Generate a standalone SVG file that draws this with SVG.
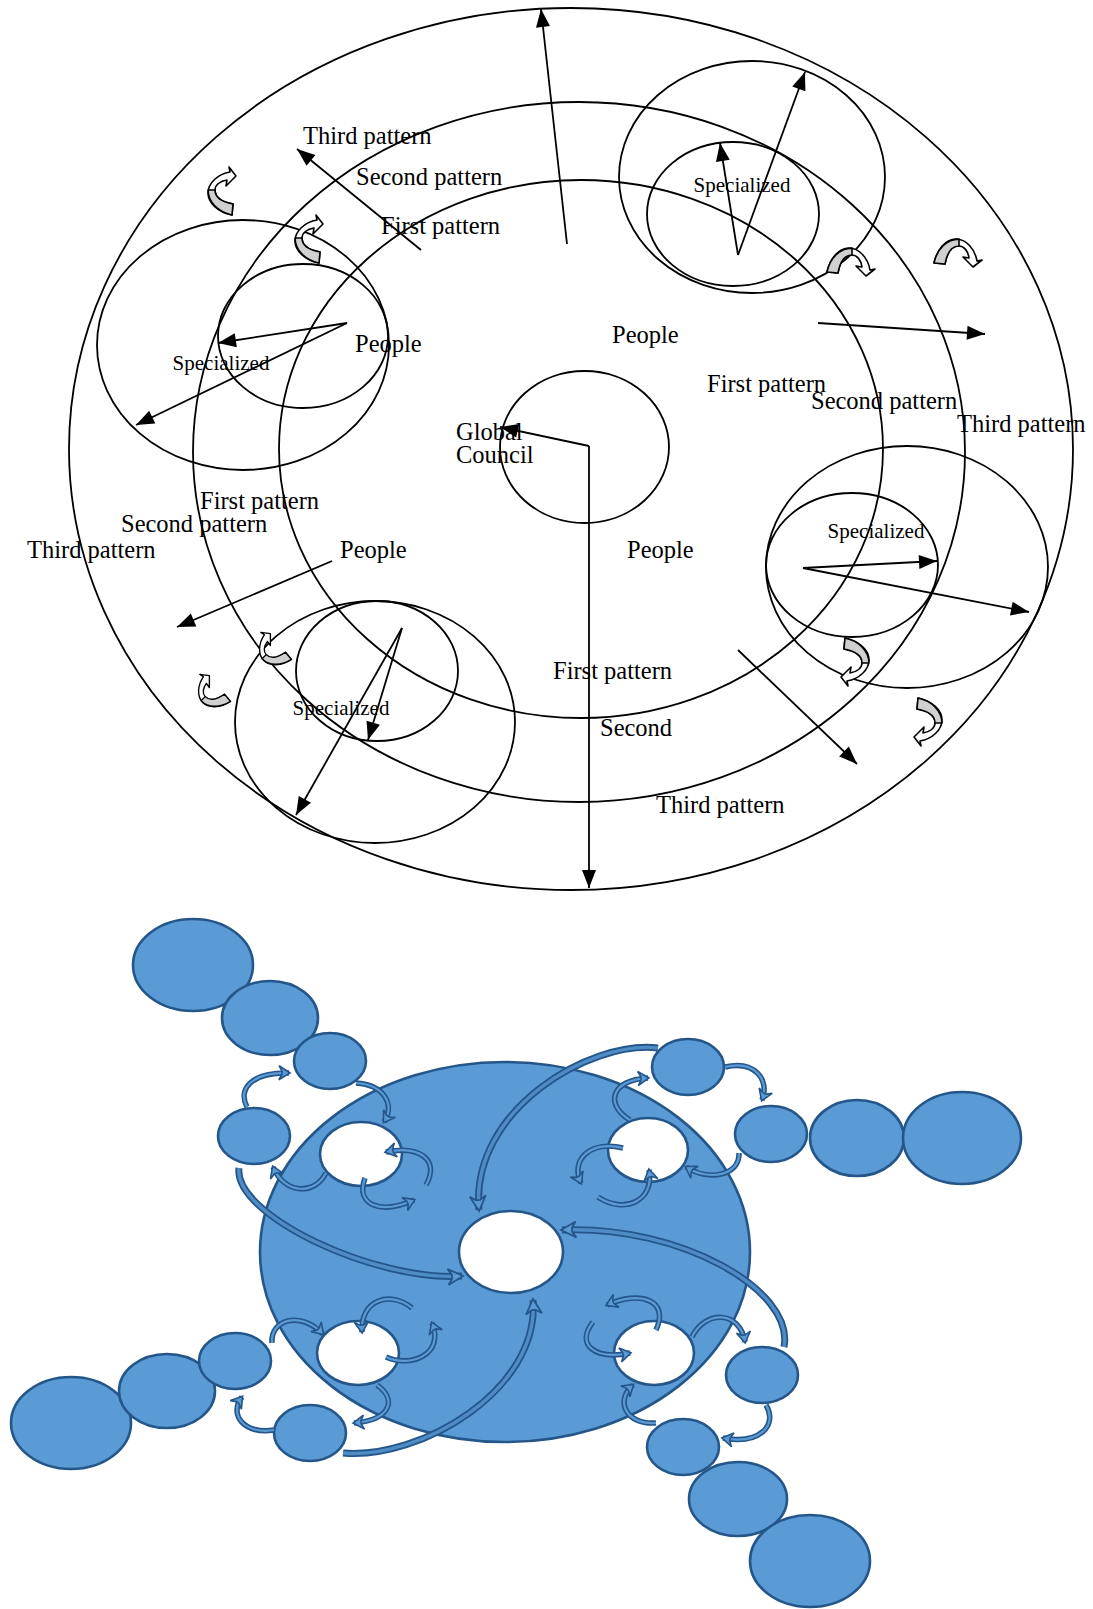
<svg xmlns="http://www.w3.org/2000/svg" width="1093" height="1609" viewBox="0 0 1093 1609">
<style>
.ln{fill:none;stroke:#000;stroke-width:1.8}
.ar{fill:none;stroke:#000;stroke-width:1.8;marker-end:url(#ah)}
.t{font-family:"Liberation Serif","Times New Roman",serif;font-size:24.5px;fill:#000}
.ts{font-family:"Liberation Serif","Times New Roman",serif;font-size:21px;fill:#000;text-anchor:middle}
.gw{fill:#fff;stroke:#000;stroke-width:1.6;stroke-linejoin:round}
.gg{fill:#d0d0d0;stroke:#000;stroke-width:1.6;stroke-linejoin:round}
.be{fill:#5b9bd5;stroke:#24568a;stroke-width:2.6}
.we{fill:#fff;stroke:#24568a;stroke-width:2.6}
.co{fill:none;stroke:#24568a;stroke-width:5.5;stroke-linecap:butt}
.ci{fill:none;stroke:#5b9bd5;stroke-width:2.2;marker-end:url(#bh)}
.lo{fill:none;stroke:#24568a;stroke-width:7;stroke-linecap:butt}
.li{fill:none;stroke:#4f8cc6;stroke-width:3.4;marker-end:url(#bh2)}
</style>
<defs>
<marker id="ah" markerUnits="userSpaceOnUse" markerWidth="20" markerHeight="16" viewBox="-19 -8 20 16" refX="0" refY="0" orient="auto">
<path d="M0,0 L-18,-7 L-18,7 Z" fill="#000"/>
</marker>
<marker id="bh" markerUnits="userSpaceOnUse" markerWidth="16" markerHeight="18" viewBox="-12 -9 14 18" refX="0" refY="0" orient="auto">
<path d="M1,0 L-10,-7 L-7,-1.5 L-7,1.5 L-10,7 Z" fill="#5b9bd5" stroke="#24568a" stroke-width="1.6" stroke-linejoin="miter"/>
</marker>
<marker id="bh2" markerUnits="userSpaceOnUse" markerWidth="22" markerHeight="20" viewBox="-16 -10 18 20" refX="0" refY="0" orient="auto">
<path d="M1,0 L-14,-8 L-10,-2 L-10,2 L-14,8 Z" fill="#5b9bd5" stroke="#24568a" stroke-width="1.8" stroke-linejoin="miter"/>
</marker>
<g id="ga">
<path class="gw" d="M14,-15 L7,-24 L8,-19 C-4,-17 -14,-8 -14,2 C-14,12 -4,21 10,24 L11,13 C0,11 -7,6 -7,-1 C-7,-6 -2,-10 5,-11 L4,-5 Z"/>
<path class="gg" d="M-13.9,-1 C-14,11 -4,21 10,24 L11,13 C0,11 -7,6 -7,-1 Z"/>
</g>
</defs>
<rect width="1093" height="1609" fill="#fff"/>

<!-- TOP DIAGRAM -->
<g id="third-pattern-ring">
<ellipse class="ln" cx="571" cy="449" rx="502" ry="441"/>
</g>
<g id="second-pattern-ring">
<ellipse class="ln" cx="579" cy="452" rx="386" ry="350"/>
</g>
<g id="first-pattern-ring">
<ellipse class="ln" cx="581" cy="449" rx="302" ry="269"/>
</g>
<g id="global-council">
<ellipse class="ln" cx="584.5" cy="447" rx="84.5" ry="76"/>
<text class="t" x="456" y="440">Global</text>
<text class="t" x="456" y="463">Council</text>
</g>
<g id="specialized-top-left">
<ellipse class="ln" cx="243" cy="345" rx="146" ry="125"/>
<ellipse class="ln" cx="303" cy="336" rx="85" ry="72"/>
<text class="ts" x="221" y="370">Specialized</text>
</g>
<g id="specialized-top-right">
<ellipse class="ln" cx="752" cy="177" rx="133" ry="116"/>
<ellipse class="ln" cx="733" cy="214" rx="86" ry="72"/>
<text class="ts" x="742" y="192">Specialized</text>
</g>
<g id="specialized-bottom-left">
<ellipse class="ln" cx="375" cy="722" rx="140" ry="121"/>
<ellipse class="ln" cx="377" cy="671" rx="81" ry="70"/>
<text class="ts" x="341" y="715">Specialized</text>
</g>
<g id="specialized-right">
<ellipse class="ln" cx="907" cy="567" rx="141" ry="121"/>
<ellipse class="ln" cx="852" cy="565" rx="86" ry="72"/>
<text class="ts" x="876" y="538">Specialized</text>
</g>

<g id="labels">
<text class="t" x="303" y="144">Third pattern</text>
<text class="t" x="356" y="185">Second pattern</text>
<text class="t" x="381" y="234">First pattern</text>
<text class="t" x="355" y="352">People</text>
<text class="t" x="612" y="343">People</text>
<text class="t" x="707" y="392">First pattern</text>
<text class="t" x="811" y="409">Second pattern</text>
<text class="t" x="957" y="432">Third pattern</text>
<text class="t" x="200" y="509">First pattern</text>
<text class="t" x="121" y="532">Second pattern</text>
<text class="t" x="27" y="558">Third pattern</text>
<text class="t" x="340" y="558">People</text>
<text class="t" x="627" y="558">People</text>
<text class="t" x="553" y="679">First pattern</text>
<text class="t" x="600" y="736">Second</text>
<text class="t" x="656" y="813">Third pattern</text>
</g>

<g id="connectors">
<path class="ar" d="M589,446 L500,427"/>
<path class="ar" d="M589,446 L589,888"/>
<path class="ar" d="M567,244 L541,9"/>
<path class="ar" d="M421,250 L297,149"/>
<path class="ar" d="M818,323 L985,334"/>
<path class="ar" d="M332,561 L177,627"/>
<path class="ar" d="M738,650 L857,764"/>
<path class="ar" d="M347,323 L218,343"/>
<path class="ar" d="M347,323 L136,425"/>
<path class="ar" d="M738,255 L720,143"/>
<path class="ar" d="M738,255 L805,72"/>
<path class="ar" d="M402,628 L368,740"/>
<path class="ar" d="M402,628 L296,815"/>
<path class="ar" d="M803,568 L937,561"/>
<path class="ar" d="M803,568 L1029,612"/>
</g>

<g id="cycle-arrows">
<use href="#ga" transform="translate(222,191)"/>
<use href="#ga" transform="translate(309,239)"/>
<use href="#ga" transform="translate(851,262) rotate(90)"/>
<use href="#ga" transform="translate(958,253) rotate(90)"/>
<use href="#ga" transform="translate(271,651) rotate(-45) scale(0.85)"/>
<use href="#ga" transform="translate(210,693) rotate(-45) scale(0.85)"/>
<use href="#ga" transform="translate(855,662) rotate(180)"/>
<use href="#ga" transform="translate(928,722) rotate(180)"/>
</g>

<!-- BOTTOM DIAGRAM -->
<g id="blue-core">
<ellipse class="be" cx="505" cy="1252" rx="245" ry="190"/>
</g>
<g id="center-hub">
<ellipse class="we" cx="511" cy="1252" rx="52" ry="41"/>
</g>
<g id="hub-upper-left"><ellipse class="we" cx="361" cy="1154" rx="41" ry="32"/></g>
<g id="hub-upper-right"><ellipse class="we" cx="648" cy="1150" rx="40" ry="32"/></g>
<g id="hub-lower-left"><ellipse class="we" cx="358" cy="1353" rx="41" ry="32"/></g>
<g id="hub-lower-right"><ellipse class="we" cx="654" cy="1353" rx="40" ry="32"/></g>

<g id="chain-upper-left">
<ellipse class="be" cx="193" cy="965" rx="60" ry="46"/>
<ellipse class="be" cx="270" cy="1018" rx="48" ry="37"/>
<ellipse class="be" cx="330" cy="1061" rx="36" ry="28"/>
<ellipse class="be" cx="254" cy="1136" rx="36" ry="28"/>
</g>
<g id="chain-upper-right">
<ellipse class="be" cx="688" cy="1067" rx="36" ry="28"/>
<ellipse class="be" cx="771" cy="1134" rx="36" ry="28"/>
<ellipse class="be" cx="857" cy="1138" rx="47" ry="38"/>
<ellipse class="be" cx="962" cy="1138" rx="59" ry="46"/>
</g>
<g id="chain-lower-left">
<ellipse class="be" cx="71" cy="1423" rx="60" ry="46"/>
<ellipse class="be" cx="167" cy="1391" rx="48" ry="37"/>
<ellipse class="be" cx="235" cy="1361" rx="36" ry="28"/>
<ellipse class="be" cx="310" cy="1433" rx="36" ry="28"/>
</g>
<g id="chain-lower-right">
<ellipse class="be" cx="762" cy="1375" rx="36" ry="28"/>
<ellipse class="be" cx="683" cy="1447" rx="36" ry="28"/>
<ellipse class="be" cx="738" cy="1499" rx="49" ry="37"/>
<ellipse class="be" cx="810" cy="1561" rx="60" ry="46"/>
</g>

<g id="blue-connectors">
<path class="lo" d="M239,1168 C233,1215 375,1282 462,1276"/>
<path class="li" d="M239,1168 C233,1215 375,1282 462,1276"/>
<path class="lo" d="M658,1048 C590,1040 470,1110 479,1210"/>
<path class="li" d="M658,1048 C590,1040 470,1110 479,1210"/>
<path class="lo" d="M784,1347 C795,1290 680,1225 562,1230"/>
<path class="li" d="M784,1347 C795,1290 680,1225 562,1230"/>
<path class="lo" d="M343,1453 C420,1460 540,1390 533,1300"/>
<path class="li" d="M343,1453 C420,1460 540,1390 533,1300"/>

<path class="co" d="M247,1107 C238,1090 250,1072 289,1073"/><path class="ci" d="M247,1107 C238,1090 250,1072 289,1073"/>
<path class="co" d="M356,1083 C385,1085 395,1105 384,1122"/><path class="ci" d="M356,1083 C385,1085 395,1105 384,1122"/>
<path class="co" d="M326,1173 C315,1195 285,1195 273,1167"/><path class="ci" d="M326,1173 C315,1195 285,1195 273,1167"/>
<path class="co" d="M365,1178 C355,1205 380,1215 414,1200"/><path class="ci" d="M365,1178 C355,1205 380,1215 414,1200"/>
<path class="co" d="M426,1185 C440,1160 420,1145 386,1152"/><path class="ci" d="M426,1185 C440,1160 420,1145 386,1152"/>

<path class="co" d="M630,1120 C605,1105 610,1080 648,1078"/><path class="ci" d="M630,1120 C605,1105 610,1080 648,1078"/>
<path class="co" d="M725,1067 C755,1060 770,1080 762,1100"/><path class="ci" d="M725,1067 C755,1060 770,1080 762,1100"/>
<path class="co" d="M739,1153 C740,1175 710,1182 686,1167"/><path class="ci" d="M739,1153 C740,1175 710,1182 686,1167"/>
<path class="co" d="M623,1148 C590,1140 570,1160 581,1183"/><path class="ci" d="M623,1148 C590,1140 570,1160 581,1183"/>
<path class="co" d="M598,1197 C625,1215 655,1200 649,1170"/><path class="ci" d="M598,1197 C625,1215 655,1200 649,1170"/>

<path class="co" d="M272,1343 C270,1320 300,1310 323,1334"/><path class="ci" d="M272,1343 C270,1320 300,1310 323,1334"/>
<path class="co" d="M412,1308 C390,1290 360,1300 362,1332"/><path class="ci" d="M412,1308 C390,1290 360,1300 362,1332"/>
<path class="co" d="M386,1357 C410,1368 445,1355 432,1323"/><path class="ci" d="M386,1357 C410,1368 445,1355 432,1323"/>
<path class="co" d="M377,1385 C398,1400 390,1420 354,1423"/><path class="ci" d="M377,1385 C398,1400 390,1420 354,1423"/>
<path class="co" d="M274,1430 C245,1435 228,1415 242,1397"/><path class="ci" d="M274,1430 C245,1435 228,1415 242,1397"/>

<path class="co" d="M656,1330 C670,1300 640,1290 607,1305"/><path class="ci" d="M656,1330 C670,1300 640,1290 607,1305"/>
<path class="co" d="M593,1322 C575,1345 595,1360 630,1353"/><path class="ci" d="M593,1322 C575,1345 595,1360 630,1353"/>
<path class="co" d="M692,1337 C705,1310 740,1310 745,1342"/><path class="ci" d="M692,1337 C705,1310 740,1310 745,1342"/>
<path class="co" d="M766,1405 C778,1425 760,1445 723,1438"/><path class="ci" d="M766,1405 C778,1425 760,1445 723,1438"/>
<path class="co" d="M656,1423 C625,1425 615,1400 633,1385"/><path class="ci" d="M656,1423 C625,1425 615,1400 633,1385"/>
</g>
</svg>
